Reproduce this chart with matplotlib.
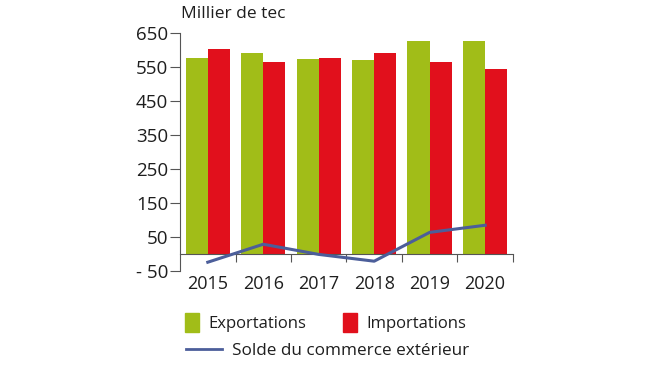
import matplotlib
matplotlib.use('Agg')
import matplotlib.pyplot as plt
import numpy as np
from matplotlib.patches import Patch
from matplotlib.lines import Line2D

plt.rcParams['font.family'] = ['Open Sans', 'DejaVu Sans']

annees = ['2015', '2016', '2017', '2018', '2019', '2020']
exportations = [578, 593, 574, 571, 628, 628]
importations = [603, 565, 576, 593, 565, 544]
solde = [-25, 28, -2, -22, 63, 84]
yticks = [-50, 50, 150, 250, 350, 450, 550, 650]
ylabels = ['- 50', '50', '150', '250', '350', '450', '550', '650']

vert = '#a1bd18'
rouge = '#e1101c'
bleu = '#4c5e9a'
texte = '#1e1e1e'

fig = plt.figure(figsize=(6.5, 3.66), dpi=100)
ax = fig.add_axes([0.277, 0.2604, 0.512, 0.6486])

x = np.arange(len(annees))
w = 0.4
ax.bar(x - w / 2, exportations, w, color=vert, zorder=2)
ax.bar(x + w / 2, importations, w, color=rouge, zorder=2)
ax.plot(x, solde, color=bleu, lw=2.2, zorder=3)

ax.set_xlim(-0.5, len(annees) - 0.5)
ax.set_ylim(-50, 650)
ax.set_yticks(yticks)
ax.set_yticklabels(ylabels)
ax.tick_params(axis='y', length=7, width=0.8, color='#555555', labelsize=13.5,
               labelcolor=texte, pad=1.5)

# axe des x à zéro, graduations entre les années
ax.spines['top'].set_visible(False)
ax.spines['right'].set_visible(False)
ax.spines['bottom'].set_position(('data', 0))
ax.spines['left'].set_color('#555555')
ax.spines['bottom'].set_color('#555555')
ax.set_xticks(x + 0.5)
ax.set_xticklabels([])
ax.set_xticks(x, minor=True)
ax.set_xticklabels(annees, minor=True)
ax.tick_params(axis='x', which='major', length=6, width=0.8, color='#555555')
ax.tick_params(axis='x', which='minor', length=0, labelsize=13, labelcolor=texte, pad=15)

fig.text(0.278, 0.962, 'Millier de tec', fontsize=12.5, color=texte, va='center', ha='left')

leg1 = fig.legend(handles=[Patch(color=vert, label='Exportations'),
                           Patch(color=rouge, label='Importations')],
                  ncol=2, loc='center left', bbox_to_anchor=(0.262, 0.118),
                  frameon=False, fontsize=12, handlelength=0.8, handleheight=1.4,
                  handletextpad=0.6, columnspacing=2.2, labelcolor=texte)
leg2 = fig.legend(handles=[Line2D([], [], color=bleu, lw=2, label='Solde du commerce extérieur')],
                  loc='center left', bbox_to_anchor=(0.262, 0.042),
                  frameon=False, fontsize=12.3, handlelength=2.1, handletextpad=0.6,
                  labelcolor=texte)

fig.savefig('out.png', dpi=100)
